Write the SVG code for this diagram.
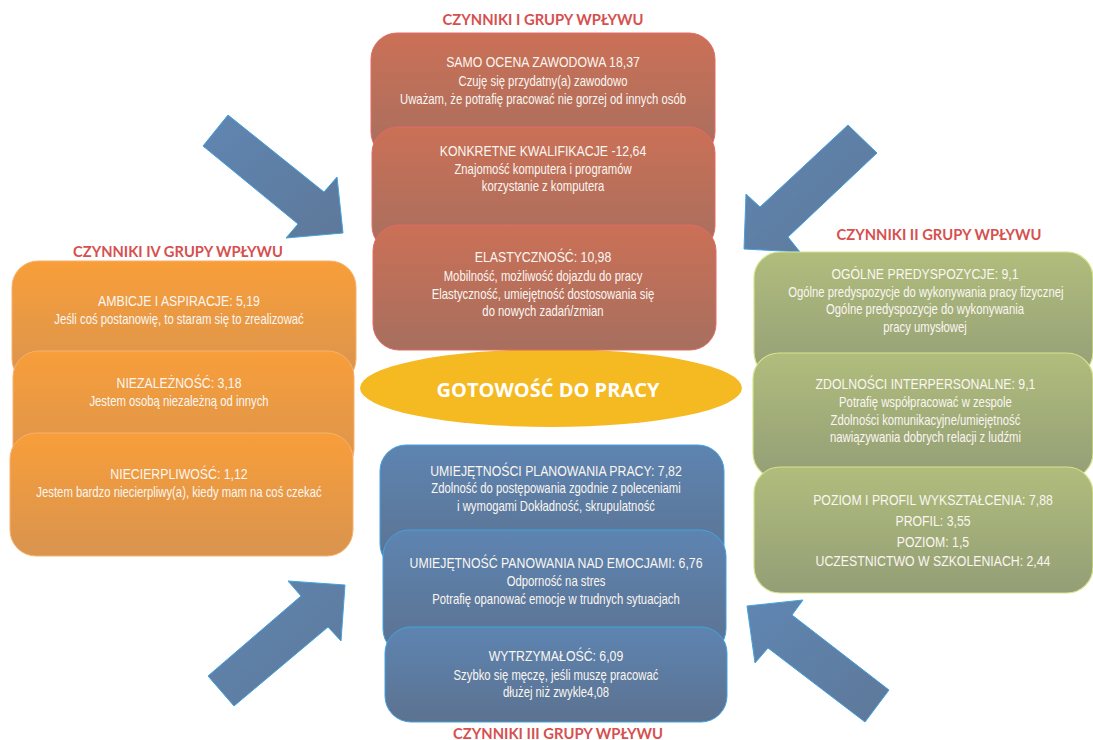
<svg xmlns="http://www.w3.org/2000/svg" width="1093" height="740" viewBox="0 0 1093 740">
<defs>
<linearGradient id="gRed" x1="0" y1="0" x2="0" y2="1"><stop offset="0" stop-color="#cb7056"/><stop offset="1" stop-color="#a76f5f"/></linearGradient>
<linearGradient id="gOrange" x1="0" y1="0" x2="0" y2="1"><stop offset="0" stop-color="#f89e3a"/><stop offset="1" stop-color="#d9944f"/></linearGradient>
<linearGradient id="gGreen" x1="0" y1="0" x2="0" y2="1"><stop offset="0" stop-color="#b0bd7c"/><stop offset="1" stop-color="#949e77"/></linearGradient>
<linearGradient id="gBlue" x1="0" y1="0" x2="0" y2="1"><stop offset="0" stop-color="#5d84b1"/><stop offset="1" stop-color="#5c7290"/></linearGradient>
<linearGradient id="gArrow" x1="0" y1="0" x2="1" y2="1"><stop offset="0" stop-color="#5f86b2"/><stop offset="1" stop-color="#5e7899"/></linearGradient>
<style>
.red{fill:url(#gRed);stroke:#e36a66;stroke-width:1}
.org{fill:url(#gOrange);stroke:#f7b26c;stroke-width:1}
.grn{fill:url(#gGreen);stroke:#d6e38c;stroke-width:1.2}
.blu{fill:url(#gBlue);stroke:#43a3df;stroke-width:1}
.arrow{fill:url(#gArrow);stroke:#42a2dd;stroke-width:1}
text{font-family:"Liberation Sans",Arial,sans-serif;fill:#fbf6f1;text-anchor:middle}
.t{font-size:15px}
.s{font-size:13.8px}
.h{font-family:Lato,"Open Sans",sans-serif;font-weight:700;font-size:15.5px;fill:#d6504f}
.c{font-family:"Open Sans",Lato,sans-serif;font-weight:700;font-size:20px;fill:#ffffff}
</style>
</defs>
<rect width="1093" height="740" fill="#ffffff"/>

<g id="connectors">
<polygon class="arrow" points="228,115 324,192 337,177 343,233 286,238 298,224 203,146"/>
<polygon class="arrow" points="848,125 877,153 788,237 800,252 744,249 746,194 760,207"/>
<polygon class="arrow" points="208,676 301,596 288,581 345,585 341,641 328,627 234,706"/>
<polygon class="arrow" points="747,606 803,600 792,615 889,690 865,722 768,648 755,663"/>
</g>

<g id="center">
<ellipse cx="551" cy="388" rx="191" ry="39" fill="#f5b922"/>
<text class="c" x="548" y="397">GOTOWOŚĆ DO PRACY</text>
</g>

<g id="group1">
<text class="h" x="543" y="25" textLength="201" lengthAdjust="spacingAndGlyphs">CZYNNIKI I GRUPY WPŁYWU</text>
<g id="g1-samoocena">
<rect class="red" x="371" y="33" width="344" height="125" rx="26"/>
<g transform="translate(543,0) scale(0.82,1)">
<text class="t" x="0" y="67">SAMO OCENA ZAWODOWA 18,37</text>
<text class="s" x="0" y="86">Czuję się przydatny(a) zawodowo</text>
<text class="s" x="0" y="104">Uważam, że potrafię pracować nie gorzej od innych osób</text>
</g>
</g>
<g id="g1-kwalifikacje">
<rect class="red" x="372" y="127" width="343" height="125" rx="26"/>
<g transform="translate(543,0) scale(0.82,1)">
<text class="t" x="0" y="156">KONKRETNE KWALIFIKACJE -12,64</text>
<text class="s" x="0" y="174">Znajomość komputera i programów</text>
<text class="s" x="0" y="191">korzystanie z komputera</text>
</g>
</g>
<g id="g1-elastycznosc">
<rect class="red" x="373" y="225" width="343" height="125" rx="26"/>
<g transform="translate(543,0) scale(0.82,1)">
<text class="t" x="0" y="262.5">ELASTYCZNOŚĆ: 10,98</text>
<text class="s" x="0" y="281">Mobilność, możliwość dojazdu do pracy</text>
<text class="s" x="0" y="299">Elastyczność, umiejętność dostosowania się</text>
<text class="s" x="0" y="316">do nowych zadań/zmian</text>
</g>
</g>
</g>

<g id="group4">
<text class="h" x="178" y="257" textLength="210" lengthAdjust="spacingAndGlyphs">CZYNNIKI IV GRUPY WPŁYWU</text>
<g id="g4-ambicje">
<rect class="org" x="12" y="261" width="344" height="124" rx="26"/>
<g transform="translate(179,0) scale(0.82,1)">
<text class="t" x="0" y="306.5">AMBICJE I ASPIRACJE: 5,19</text>
<text class="s" x="0" y="324">Jeśli coś postanowię, to staram się to zrealizować</text>
</g>
</g>
<g id="g4-niezaleznosc">
<rect class="org" x="13" y="351" width="341" height="124" rx="26"/>
<g transform="translate(179,0) scale(0.82,1)">
<text class="t" x="0" y="388">NIEZALEŻNOŚĆ: 3,18</text>
<text class="s" x="0" y="406">Jestem osobą niezależną od innych</text>
</g>
</g>
<g id="g4-niecierpliwosc">
<rect class="org" x="10" y="433" width="343" height="123" rx="26"/>
<g transform="translate(179,0) scale(0.82,1)">
<text class="t" x="0" y="479">NIECIERPLIWOŚĆ: 1,12</text>
<text class="s" x="0" y="497">Jestem bardzo niecierpliwy(a), kiedy mam na coś czekać</text>
</g>
</g>
</g>

<g id="group2">
<text class="h" x="939" y="240" textLength="205" lengthAdjust="spacingAndGlyphs">CZYNNIKI II GRUPY WPŁYWU</text>
<g id="g2-predyspozycje">
<rect class="grn" x="754" y="252" width="339" height="126" rx="26"/>
<g transform="translate(925,0) scale(0.82,1)">
<text class="t" x="0" y="279">OGÓLNE PREDYSPOZYCJE: 9,1</text>
<text class="s" x="1" y="297">Ogólne predyspozycje do wykonywania pracy fizycznej</text>
<text class="s" x="0" y="314">Ogólne predyspozycje do wykonywania</text>
<text class="s" x="0" y="332">pracy umysłowej</text>
</g>
</g>
<g id="g2-interpersonalne">
<rect class="grn" x="753" y="353" width="340" height="126" rx="26"/>
<g transform="translate(925.5,0) scale(0.82,1)">
<text class="t" x="0" y="389">ZDOLNOŚCI INTERPERSONALNE: 9,1</text>
<text class="s" x="0" y="407">Potrafię współpracować w zespole</text>
<text class="s" x="0" y="425">Zdolności komunikacyjne/umiejętność</text>
<text class="s" x="0" y="442">nawiązywania dobrych relacji z ludźmi</text>
</g>
</g>
<g id="g2-wyksztalcenie">
<rect class="grn" x="754" y="467" width="339" height="126" rx="26"/>
<g transform="translate(933,0) scale(0.82,1)">
<text class="t" x="0" y="505">POZIOM I PROFIL WYKSZTAŁCENIA: 7,88</text>
<text class="t" x="0" y="526">PROFIL: 3,55</text>
<text class="t" x="0" y="547">POZIOM: 1,5</text>
<text class="t" x="0" y="566.5">UCZESTNICTWO W SZKOLENIACH: 2,44</text>
</g>
</g>
</g>

<g id="group3">
<g id="g3-planowanie">
<rect class="blu" x="380" y="445" width="344" height="125" rx="26"/>
<g transform="translate(556,0) scale(0.82,1)">
<text class="t" x="0" y="476">UMIEJĘTNOŚCI PLANOWANIA PRACY: 7,82</text>
<text class="s" x="0" y="493">Zdolność do postępowania zgodnie z poleceniami</text>
<text class="s" x="0" y="511">i wymogami Dokładność, skrupulatność</text>
</g>
</g>
<g id="g3-emocje">
<rect class="blu" x="383" y="530" width="343" height="125" rx="26"/>
<g transform="translate(556,0) scale(0.82,1)">
<text class="t" x="0" y="568">UMIEJĘTNOŚĆ PANOWANIA NAD EMOCJAMI: 6,76</text>
<text class="s" x="0" y="586">Odporność na stres</text>
<text class="s" x="0" y="604">Potrafię opanować emocje w trudnych sytuacjach</text>
</g>
</g>
<g id="g3-wytrzymalosc">
<rect class="blu" x="385" y="627" width="342" height="95" rx="26"/>
<g transform="translate(556,0) scale(0.82,1)">
<text class="t" x="0" y="661.5">WYTRZYMAŁOŚĆ: 6,09</text>
<text class="s" x="0" y="680">Szybko się męczę, jeśli muszę pracować</text>
<text class="s" x="0" y="697">dłużej niż zwykle4,08</text>
</g>
</g>
<text class="h" x="558" y="739" textLength="210" lengthAdjust="spacingAndGlyphs">CZYNNIKI III GRUPY WPŁYWU</text>
</g>
</svg>
